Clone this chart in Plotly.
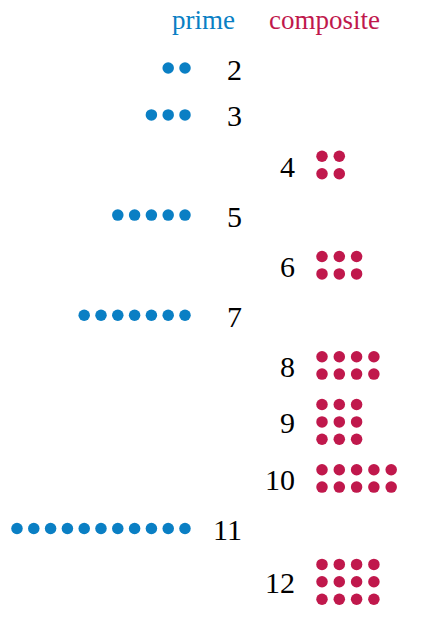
import plotly.graph_objects as go

numbers = [2, 3, 4, 5, 6, 7, 8, 9, 10, 11, 12]
is_prime = [True, True, False, True, False, True, False, False, False, True, False]
# composite dot grids: (rows, cols)
grid = {4: (2, 2), 6: (2, 3), 8: (2, 4), 9: (3, 3), 10: (2, 5), 12: (3, 4)}

blue = "#0a7fc4"
red = "#c0184c"
font = "Liberation Serif, Times New Roman, serif"

fig = go.Figure()

# vertical layout from rows of each item
y = 68
prev_rows = 1
centers = []
for n, p in zip(numbers, is_prime):
    rows = 1 if p else grid[n][0]
    if centers:
        y += 40.5 + 3.2 * (prev_rows + rows)
    centers.append(y)
    prev_rows = rows

px_, py_, cx_, cy_ = [], [], [], []
for n, p, yc in zip(numbers, is_prime, centers):
    if p:
        for i in range(n):
            px_.append(185 - 16.8 * i)
            py_.append(yc)
        fig.add_annotation(x=244, y=yc + 1, text=str(n), showarrow=False, xanchor="right",
                           font=dict(size=30, color="black", family=font))
    else:
        r, c = grid[n]
        for j in range(r):
            for i in range(c):
                cx_.append(322 + 17.3 * i)
                cy_.append(yc - 8.7 * (r - 1) + 17.4 * j)
        fig.add_annotation(x=297, y=yc + 1, text=str(n), showarrow=False, xanchor="right",
                           font=dict(size=30, color="black", family=font))

fig.add_trace(go.Scatter(x=px_, y=py_, mode="markers", marker=dict(size=11.5, color=blue)))
fig.add_trace(go.Scatter(x=cx_, y=cy_, mode="markers", marker=dict(size=11.5, color=red)))

fig.add_annotation(x=237, y=20, text="prime", showarrow=False, xanchor="right",
                   font=dict(size=27, color=blue, family=font))
fig.add_annotation(x=267, y=20, text="composite", showarrow=False, xanchor="left",
                   font=dict(size=27, color=red, family=font))

# page body has an 8px margin, so shift the ranges to compensate
fig.update_xaxes(range=[8, 448], visible=False)
fig.update_yaxes(range=[627, 8], visible=False)
fig.update_layout(width=440, height=619, margin=dict(l=0, r=0, t=0, b=0),
                  showlegend=False, plot_bgcolor="white", paper_bgcolor="white")
fig.write_html("out.html")
